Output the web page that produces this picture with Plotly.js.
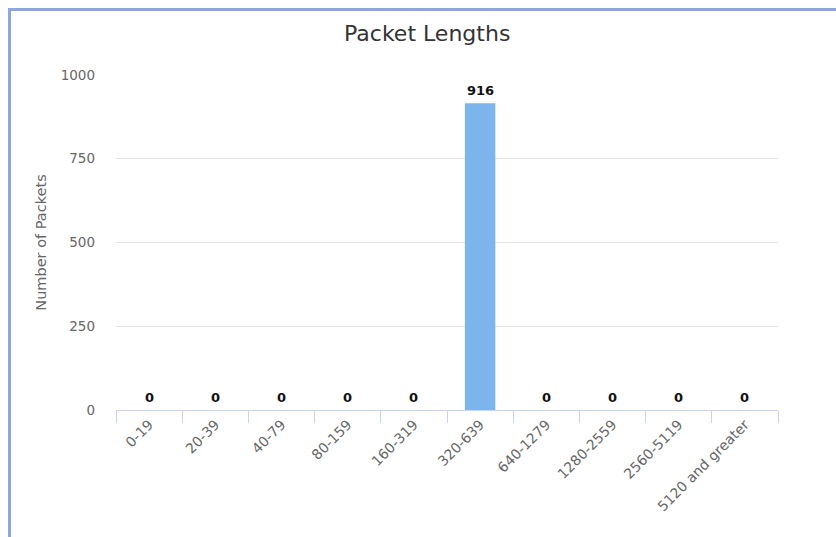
<!DOCTYPE html>
<html>
<head>
<meta charset="utf-8">
<script src="https://cdn.plot.ly/plotly-3.0.1.min.js"></script>
<style>
  html, body { margin: 0; padding: 0; background: #fff; }
  #chart { width: 836px; height: 537px; position: absolute; left: 0; top: 0; }
  #frame { position: absolute; left: 8px; top: 8px; width: 840px; height: 540px;
           border-left: 3px solid #8ea6dc; border-top: 3px solid #8ea6dc; pointer-events: none; }
</style>
</head>
<body>
<div id="chart"></div>
<div id="frame"></div>
<script>
const categories = ["0-19", "20-39", "40-79", "80-159", "160-319", "320-639", "640-1279", "1280-2559", "2560-5119", "5120 and greater"];
const packets = [0, 0, 0, 0, 0, 916, 0, 0, 0, 0];
const yTicks = [0, 250, 500, 750, 1000];

const font = "DejaVu Sans, Verdana, sans-serif";

const trace = {
  type: "bar",
  x: categories,
  y: packets,
  marker: { color: "#7cb5ec" },
  width: 0.46,
  hoverinfo: "x+y"
};

const annotations = categories.map((c, i) => ({
  x: c, y: packets[i], xref: "x", yref: "y",
  text: "<b>" + packets[i] + "</b>",
  showarrow: false, yanchor: "bottom", yshift: 3,
  font: { family: font, size: 13, color: "#111" }
}));

const layout = {
  width: 836, height: 537,
  margin: { l: 116, r: 58, t: 75, b: 127 },
  paper_bgcolor: "#fff", plot_bgcolor: "#fff",
  showlegend: false,
  title: { text: "Packet Lengths", x: 0.511, xanchor: "center", y: 0.938, yanchor: "middle", yref: "container",
           font: { family: font, size: 22, color: "#333" } },
  xaxis: {
    type: "category", range: [-0.5, 9.5],
    tickson: "boundaries", ticks: "outside", ticklen: 12, tickcolor: "#ccd6eb", tickwidth: 1,
    showline: true, linecolor: "#ccd6eb", linewidth: 1,
    showgrid: false, zeroline: false,
    tickangle: -45,
    tickfont: { family: font, size: 14, color: "#666" }
  },
  yaxis: {
    range: [0, 1000], tickvals: yTicks, ticktext: yTicks.map(String),
    showgrid: true, gridcolor: "#e6e6e6", gridwidth: 1,
    zeroline: false, showline: false, ticks: "",
    ticklabelstandoff: 20,
    tickfont: { family: font, size: 13.5, color: "#666" },
    title: { text: "Number of Packets", standoff: 10, font: { family: font, size: 14.5, color: "#666" } }
  },
  annotations: annotations
};

Plotly.newPlot("chart", [trace], layout, { displayModeBar: false, staticPlot: true });
</script>
</body>
</html>
